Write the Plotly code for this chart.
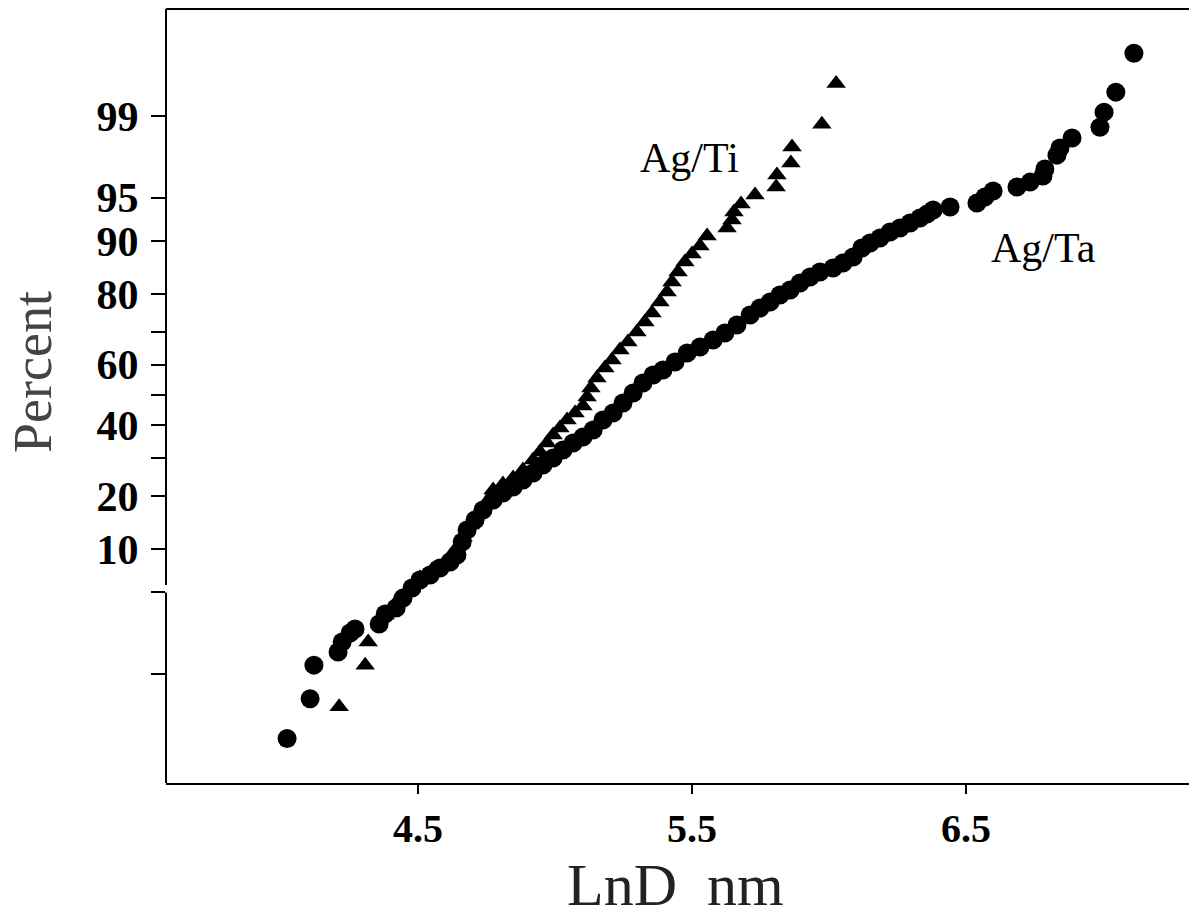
import plotly.graph_objects as go
from statistics import NormalDist

# ---- data ----
ta_lnd = [4.022, 4.106, 4.120, 4.208, 4.223, 4.252, 4.270, 4.358, 4.380, 4.420,
          4.445, 4.478, 4.507, 4.544, 4.580, 4.617, 4.642, 4.661, 4.679, 4.708,
          4.737, 4.774, 4.810, 4.847, 4.883, 4.920, 4.956, 4.993, 5.029, 5.066,
          5.102, 5.139, 5.175, 5.212, 5.248, 5.285, 5.321, 5.358, 5.394, 5.438,
          5.482, 5.529, 5.577, 5.620, 5.664, 5.712, 5.748, 5.785, 5.821, 5.858,
          5.894, 5.931, 5.967, 6.015, 6.051, 6.088, 6.120, 6.150, 6.186, 6.223,
          6.259, 6.296, 6.332, 6.358, 6.380, 6.442, 6.540, 6.569, 6.599, 6.686,
          6.734, 6.781, 6.788, 6.832, 6.843, 6.887, 6.989, 7.004, 7.047, 7.113]
ta_pct = [0.21, 0.57, 1.22, 1.61, 1.98, 2.37, 2.56, 2.82, 3.40, 3.80,
          4.53, 5.39, 6.16, 6.68, 7.47, 8.20, 9.12, 11.03, 13.03, 14.88,
          16.90, 19.08, 20.71, 22.16, 23.94, 25.78, 27.98, 29.98, 32.34, 34.46,
          36.32, 38.53, 41.75, 44.04, 47.34, 50.66, 53.98, 56.62, 58.25, 60.83,
          63.68, 65.54, 67.66, 69.74, 72.02, 74.75, 76.58, 78.08, 79.76, 80.92,
          82.46, 83.72, 84.73, 85.50, 86.43, 87.49, 88.97, 89.74, 90.46, 91.28,
          91.80, 92.41, 92.99, 93.42, 93.85, 94.14, 94.52, 95.05, 95.54, 95.85,
          96.20, 96.60, 97.02, 97.72, 98.02, 98.39, 98.72, 99.08, 99.42, 99.78]

ti_lnd = [4.212, 4.307, 4.318, 4.380, 4.427, 4.471, 4.507, 4.551, 4.599, 4.635,
          4.664, 4.690, 4.719, 4.748, 4.774, 4.810, 4.847, 4.883, 4.920, 4.945,
          4.971, 4.993, 5.018, 5.044, 5.073, 5.102, 5.117, 5.131, 5.153, 5.182,
          5.208, 5.237, 5.266, 5.299, 5.328, 5.354, 5.383, 5.409, 5.427, 5.449,
          5.474, 5.500, 5.529, 5.555, 5.628, 5.646, 5.653, 5.679, 5.730, 5.807,
          5.810, 5.861, 5.865, 5.974, 6.026]
ti_pct = [0.47, 1.22, 1.98, 3.34, 4.38, 5.39, 6.36, 7.24, 8.20, 9.82,
          11.84, 13.94, 16.28, 18.41, 21.42, 22.91, 24.46, 26.60, 29.39, 31.74,
          34.46, 36.96, 39.17, 41.75, 44.04, 46.34, 49.34, 52.33, 55.63, 58.90,
          61.47, 64.62, 67.06, 70.02, 72.85, 75.27, 78.08, 80.46, 82.69, 84.73,
          86.61, 88.00, 89.29, 90.74, 91.80, 92.76, 93.64, 94.43, 95.22, 95.85,
          96.66, 97.34, 98.06, 98.80, 99.53]

y_tick_pct = [1, 5, 10, 20, 30, 40, 50, 60, 70, 80, 90, 95, 99]
y_tick_text = ["", "", "10", "20", "", "40", "", "60", "", "80", "90", "95", "99"]
x_tick_vals = [4.5, 5.5, 6.5]
x_tick_text = ["4.5", "5.5", "6.5"]

# ---- normal probability scale ----
nd = NormalDist()
def prob(p):
    return nd.inv_cdf(p / 100.0)

SERIF = "Liberation Serif, Times New Roman, serif"

fig = go.Figure()
fig.add_trace(go.Scatter(
    x=ta_lnd, y=[prob(p) for p in ta_pct], mode="markers", name="Ag/Ta",
    marker=dict(symbol="circle", size=19, color="black", line=dict(width=0)),
))
fig.add_trace(go.Scatter(
    x=ti_lnd, y=[prob(p) for p in ti_pct], mode="markers", name="Ag/Ti",
    marker=dict(symbol="triangle-up", size=17, color="black", line=dict(width=0)),
))

ymin, ymax = -3.233, 3.217
fig.update_layout(
    width=1189, height=920, autosize=False,
    margin=dict(l=166, r=0, t=9, b=137, pad=0),
    paper_bgcolor="white", plot_bgcolor="white",
    showlegend=False,
    font=dict(family=SERIF, color="black"),
    xaxis=dict(
        range=[3.58, 7.314], showgrid=False, zeroline=False,
        showline=True, linecolor="black", linewidth=2,
        ticks="outside", ticklen=9, tickwidth=2, tickcolor="black",
        tickvals=x_tick_vals, ticktext=x_tick_text,
        tickfont=dict(family=SERIF, size=40, weight="bold", color="black"),
        ticklabelstandoff=0,
    ),
    yaxis=dict(
        range=[ymin, ymax], showgrid=False, zeroline=False,
        showline=False,
        ticks="outside", ticklen=14, tickwidth=2, tickcolor="black",
        tickvals=[prob(p) for p in y_tick_pct], ticktext=y_tick_text,
        tickfont=dict(family=SERIF, size=42, weight="bold", color="black"),
        ticklabelstandoff=4,
    ),
    shapes=[
        # top border
        dict(type="line", xref="paper", yref="paper", x0=0, x1=1, y0=1, y1=1,
             line=dict(color="black", width=2)),
        # left axis line (with a small break near 5 %)
        dict(type="line", xref="paper", yref="y", x0=0, x1=0, y0=-1.583, y1=ymax,
             line=dict(color="black", width=2)),
        dict(type="line", xref="paper", yref="y", x0=0, x1=0, y0=ymin, y1=prob(5),
             line=dict(color="black", width=2)),
    ],
    annotations=[
        dict(text="Ag/Ti", xref="paper", yref="paper", x=0.512, y=0.8075,
             xanchor="center", yanchor="middle",
             showarrow=False, font=dict(family=SERIF, size=42, color="black")),
        dict(text="Ag/Ta", xref="paper", yref="paper", x=0.858, y=0.691,
             xanchor="center", yanchor="middle",
             showarrow=False, font=dict(family=SERIF, size=42, color="black")),
        dict(text="Percent", xref="paper", yref="paper", x=-0.130, y=0.531,
             xanchor="center", yanchor="middle", textangle=-90, showarrow=False,
             font=dict(family=SERIF, size=54, color="#444444")),
        dict(text="LnD\u00a0\u00a0nm", xref="paper", yref="paper", x=0.498, y=-0.132,
             xanchor="center", yanchor="middle",
             showarrow=False, font=dict(family=SERIF, size=60, color="#222222")),
    ],
)

fig.write_html("out.html", config={"displayModeBar": False},
               post_script="document.body.style.margin='0';document.body.style.overflow='hidden';")
